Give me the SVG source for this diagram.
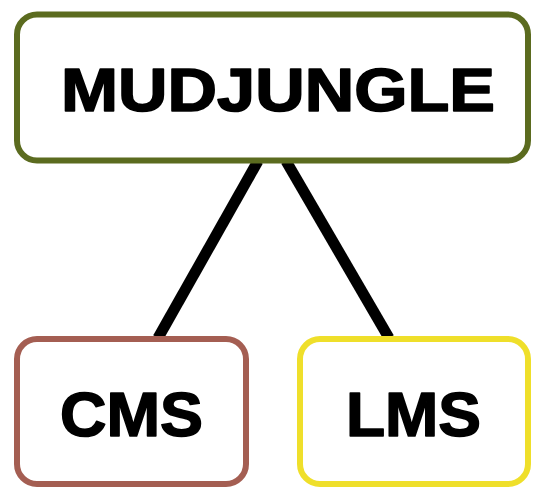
<svg xmlns="http://www.w3.org/2000/svg" width="533" height="487" viewBox="0 0 533 487">
<style>
.box{fill:#fff;stroke-width:6}
.lbl{font-family:"Liberation Sans",Arial,sans-serif;font-weight:bold;fill:#000;stroke:#000;stroke-width:1.6;stroke-linejoin:round;text-anchor:middle}
.edge{stroke:#000;stroke-width:11;fill:none}
</style>
<g id="connectors">
<line class="edge" x1="258" y1="161" x2="158" y2="338"/>
<line class="edge" x1="286" y1="161" x2="389" y2="338"/>
</g>
<g id="node-mudjungle">
<rect class="box" x="17" y="14.5" width="511" height="146" rx="20" stroke="#5b6b1f"/>
<text class="lbl" x="278" y="111" font-size="61" textLength="434" lengthAdjust="spacingAndGlyphs">MUDJUNGLE</text>
</g>
<g id="node-cms">
<rect class="box" x="17" y="339" width="229" height="145" rx="20" stroke="#a45e52"/>
<text class="lbl" x="131.5" y="436" font-size="63" textLength="143" lengthAdjust="spacingAndGlyphs">CMS</text>
</g>
<g id="node-lms">
<rect class="box" x="300" y="339" width="228" height="145" rx="20" stroke="#efdf2a"/>
<text class="lbl" x="413.5" y="436" font-size="63" textLength="135" lengthAdjust="spacingAndGlyphs">LMS</text>
</g>
</svg>
